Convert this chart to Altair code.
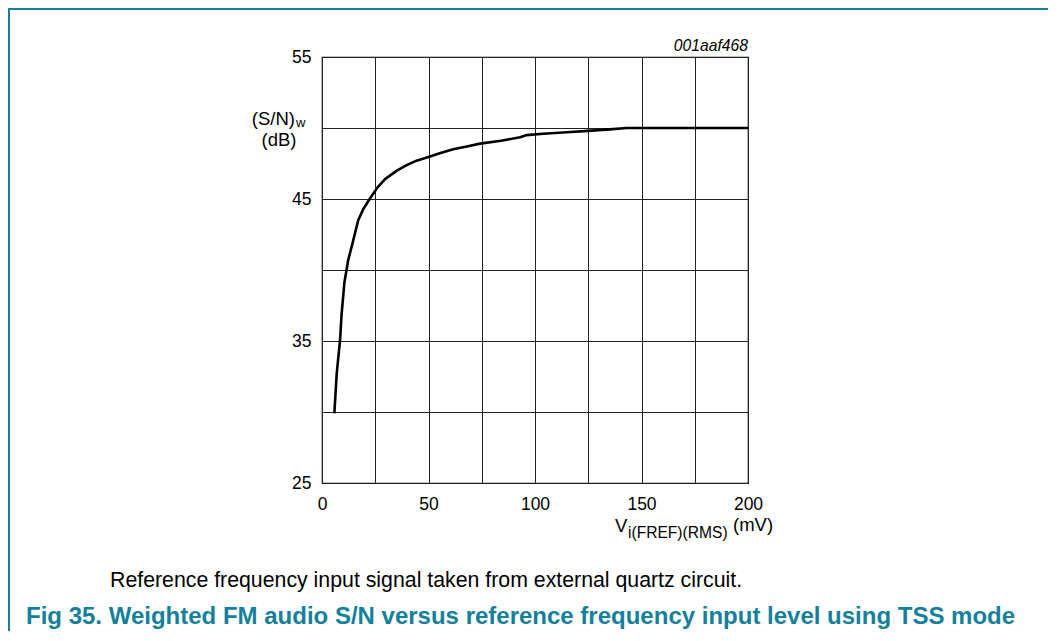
import altair as alt
import pandas as pd

# Curve values
vin_mv = [5.8, 6.9, 8.5, 9.2, 10.5, 12.3, 14.2, 17.0, 19.4, 22.6, 26.0, 29.6, 35.1,
          40.0, 44.4, 50.7, 56.0, 61.6, 68.0, 74.2, 84.0, 93.0, 96.1, 103.9, 115.0,
          125.0, 135.0, 143.0, 160.0, 180.0, 200.0]
sn_db = [29.9, 32.7, 35.1, 36.9, 39.1, 40.7, 41.8, 43.5, 44.3, 45.05, 45.8, 46.4, 47.0,
         47.4, 47.7, 48.0, 48.25, 48.5, 48.7, 48.9, 49.1, 49.35, 49.5, 49.6, 49.7,
         49.8, 49.9, 50.0, 50.0, 50.0, 50.0]

x_grid = [0, 25, 50, 75, 100, 125, 150, 175, 200]
y_grid = [25, 30, 35, 40, 45, 50, 55]

FONT = "Liberation Sans"
TEAL = "#14809a"

df = pd.DataFrame({"v": vin_mv, "sn": sn_db})

line = alt.Chart(df).mark_line(color="black", strokeWidth=2.6, strokeJoin="round").encode(
    x=alt.X("v:Q", scale=alt.Scale(domain=[0, 200], nice=False, zero=False),
            axis=alt.Axis(values=x_grid, title=None, grid=True, ticks=False, domain=False,
                          labelExpr="datum.value % 50 === 0 ? datum.label : ''",
                          labelFontSize=17.5, labelPadding=12, labelFlush=False)),
    y=alt.Y("sn:Q", scale=alt.Scale(domain=[25, 55], nice=False, zero=False),
            axis=alt.Axis(values=y_grid, title=None, grid=True, ticks=False, domain=False,
                          labelExpr="(datum.value - 25) % 10 === 0 ? datum.label : ''",
                          labelFontSize=17.5, labelPadding=11, labelFlush=False)),
)


def txt(s, x, y, size, align="left", baseline="middle", color="black", style="normal", weight="normal"):
    return alt.Chart(pd.DataFrame({"t": [s]})).mark_text(
        align=align, baseline=baseline, fontSize=size, font=FONT, color=color,
        fontStyle=style, fontWeight=weight
    ).encode(text="t:N", x=alt.value(x), y=alt.value(y))


frame_top = alt.Chart(pd.DataFrame({"a": [0]})).mark_rule(color=TEAL, strokeWidth=2).encode(
    x=alt.value(-314), x2=alt.value(740), y=alt.value(-48))
frame_left = alt.Chart(pd.DataFrame({"a": [0]})).mark_rule(color=TEAL, strokeWidth=2).encode(
    x=alt.value(-313), y=alt.value(-49), y2=alt.value(590))

layers = [
    frame_top, frame_left, line,
    txt("(S/N)", -27, 61.5, 18.5, align="right"),
    txt("w", -26, 65.5, 13),
    txt("(dB)", -43, 82.5, 18.5, align="center"),
    txt("001aaf468", 426, -11.5, 15.7, align="right", style="italic"),
    txt("V", 293, 468.5, 18.5),
    txt("i(FREF)(RMS)", 306, 475.5, 15.6),
    txt("(mV)", 411, 467.5, 18.5),
    txt("Reference frequency input signal taken from external quartz circuit.",
        -212, 529.5, 21.3, baseline="alphabetic"),
    txt("Fig 35. Weighted FM audio S/N versus reference frequency input level using TSS mode",
        -296, 566.5, 24, baseline="alphabetic", color=TEAL, weight="bold"),
]

chart = alt.layer(*layers).properties(
    width=426, height=426,
    autosize=alt.AutoSizeParams(type="none"),
    padding={"left": 314, "top": 49, "right": 300, "bottom": 148},
    background="white",
).configure_view(stroke="black", strokeWidth=1.2).configure_axis(
    gridColor="#222", gridOpacity=1, gridWidth=1, labelFont=FONT, labelColor="black"
)

chart.save("out.html", embed_options={"renderer": "svg", "actions": False})
